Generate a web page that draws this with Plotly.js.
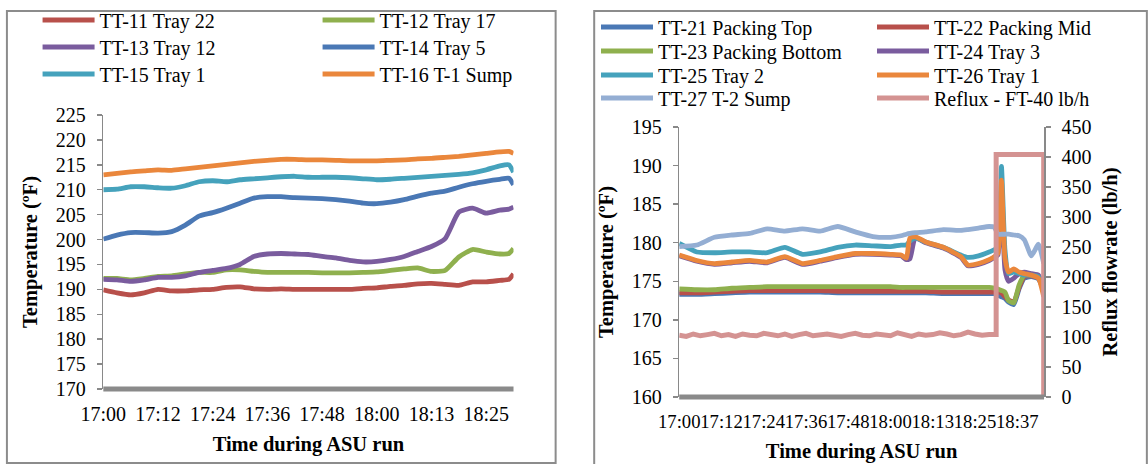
<!DOCTYPE html>
<html>
<head>
<meta charset="utf-8">
<script src="https://cdn.plot.ly/plotly-3.0.1.min.js"></script>
<style>
  html, body { margin: 0; padding: 0; background: #fff; }
  #chart { width: 1148px; height: 464px; }
</style>
</head>
<body>
<div id="chart"></div>
<script>
// ---- Column T-1 temperatures (minutes after 17:00) ----
const leftTimes = [0,3,6,9,12,15,18,21,24,27,30,33,36,39,42,45,48,51,54,57,60,63,66,69,72,75,78,81,84,87,89,90];
const tt11 = [189.9,189.3,188.9,189.3,190.0,189.7,189.7,189.9,190.0,190.4,190.5,190.1,190.0,190.1,190.0,190.0,190.0,190.0,190.0,190.2,190.3,190.6,190.8,191.1,191.2,191.0,190.8,191.5,191.5,191.8,192.0,193.1];
const tt12 = [192.2,192.2,191.9,192.2,192.6,192.7,193.1,193.4,193.4,193.9,193.9,193.6,193.4,193.4,193.4,193.4,193.3,193.3,193.3,193.4,193.5,193.8,194.1,194.3,193.6,193.8,196.5,198.0,197.5,197.1,197.2,198.2];
const tt13 = [192.0,191.9,191.6,191.9,192.4,192.4,192.7,193.4,193.8,194.2,195.0,196.6,197.1,197.2,197.1,197.0,196.6,196.3,195.8,195.5,195.6,196.0,196.6,197.6,198.6,200.2,205.5,206.3,205.3,205.9,206.1,206.5];
const tt14 = [200.1,200.9,201.4,201.4,201.3,201.6,202.9,204.7,205.4,206.3,207.3,208.3,208.6,208.6,208.4,208.3,208.2,208.0,207.7,207.3,207.2,207.5,208.0,208.7,209.3,209.7,210.5,211.2,211.7,212.1,212.3,211.0];
const tt15 = [210.0,210.1,210.6,210.6,210.4,210.3,210.8,211.6,211.8,211.6,212.0,212.2,212.4,212.6,212.7,212.5,212.5,212.5,212.4,212.2,212.0,212.1,212.3,212.5,212.7,212.9,213.1,213.4,214.0,214.8,215.0,213.5];
const tt16 = [213.0,213.3,213.6,213.8,214.0,213.9,214.2,214.5,214.8,215.1,215.4,215.7,215.9,216.1,216.1,216.0,216.0,215.9,215.8,215.8,215.8,215.9,216.0,216.2,216.3,216.5,216.7,217.0,217.3,217.6,217.7,217.3];
const leftTickText = ['17:00','17:12','17:24','17:36','17:48','18:00','18:13','18:25'];

// ---- Column T-2 temperatures and reflux flow ----
const rightTimes = [0,5,10,15,20,25,30,35,40,45,50,55,60,63,64.5,65.5,67,70,75,80,82,85,88,89.5,90.5,91.5,92.5,93.5,95,96.5,98,100,102,103.5];
const tt21 = [173.3,173.3,173.4,173.5,173.6,173.6,173.6,173.6,173.6,173.5,173.5,173.5,173.5,173.5,173.5,173.5,173.5,173.5,173.4,173.4,173.4,173.4,173.4,173.4,173.2,173.0,172.8,172.3,172.0,174.0,175.4,175.6,175.3,173.8];
const tt22 = [173.5,173.5,173.6,173.7,173.8,173.8,173.8,173.8,173.8,173.7,173.7,173.7,173.7,173.7,173.7,173.7,173.7,173.7,173.6,173.6,173.6,173.6,173.6,173.6,173.6,173.5,173.0,172.6,172.3,174.2,175.6,175.7,175.4,174.0];
const tt23 = [174.0,173.9,173.9,174.1,174.2,174.3,174.3,174.3,174.3,174.3,174.3,174.3,174.3,174.2,174.2,174.2,174.2,174.2,174.2,174.2,174.2,174.2,174.2,174.1,174.0,173.8,173.6,172.5,172.2,174.5,175.8,175.8,175.6,174.2];
const tt24 = [178.3,177.6,177.2,177.4,177.6,177.4,178.1,177.2,177.6,178.1,178.5,178.5,178.4,178.3,177.8,177.9,180.6,180.0,179.3,178.1,177.0,177.2,177.7,178.1,178.4,186.8,176.5,175.0,175.4,176.0,176.2,176.0,175.8,173.9];
const tt25 = [179.9,178.8,178.7,178.8,178.8,178.7,179.4,178.5,178.8,179.4,179.7,179.6,179.5,179.7,179.7,180.2,180.6,180.1,179.4,178.4,178.1,178.3,178.8,179.1,179.3,189.9,179.1,176.0,176.2,176.0,175.8,175.8,175.6,174.3];
const tt26 = [178.4,177.7,177.3,177.5,177.7,177.5,178.2,177.3,177.7,178.2,178.6,178.6,178.5,178.4,178.0,180.6,180.8,180.1,179.4,178.2,177.1,177.3,177.8,178.2,178.6,188.1,178.0,176.2,176.6,176.2,176.0,175.8,175.4,173.0];
const tt27 = [179.5,179.7,180.7,181.0,181.2,181.8,181.5,181.8,181.5,182.1,181.4,180.8,180.7,180.9,181.1,181.2,181.3,181.4,181.7,181.6,181.7,181.9,182.1,182.0,181.1,181.1,181.1,181.1,181.0,180.9,180.4,178.3,179.8,177.3];
const refluxTimes = [0,2,4,6,8,10,12,14,16,18,20,22,24,26,28,30,32,34,36,38,40,42,44,46,48,50,52,54,56,58,60,62,64,66,68,70,72,74,76,78,80,82,84,86,88,90,90,103.5,103.5];
const refluxFlow = [103,101,105,102,104,106,102,104,101,105,103,102,106,104,102,105,101,104,106,102,104,105,103,101,104,106,103,102,105,104,102,107,104,101,105,103,104,107,105,102,104,108,105,103,104,104,404,404,0];
const rightTickText = ['17:00','17:12','17:24','17:36','17:48','18:00','18:13','18:25','18:37'];

const C = {
  red: '#B8504B', green: '#8FB04E', purple: '#7A5C9E', blue: '#4A78B5',
  teal: '#45A2BC', orange: '#EA873C', lightblue: '#94AED3', pink: '#D49392'
};

const W = 1148, H = 464;
const px = v => v / W;           // page x pixel -> paper
const py = v => (H - v) / H;     // page y pixel -> paper

const FONT = 'Liberation Serif, Times New Roman, serif';
const LW = 4.8;

function line(name, x, y, color, xa, ya, legend) {
  return { type: 'scatter', mode: 'lines', name, x, y, xaxis: xa, yaxis: ya, legend,
           line: { color, width: LW, shape: 'spline', smoothing: 0.5 }, hoverinfo: 'skip' };
}

const traces = [
  line('TT-11 Tray 22', leftTimes, tt11, C.red,    'x', 'y', 'legend'),
  line('TT-12 Tray 17', leftTimes, tt12, C.green,  'x', 'y', 'legend'),
  line('TT-13 Tray 12', leftTimes, tt13, C.purple, 'x', 'y', 'legend2'),
  line('TT-14 Tray 5',  leftTimes, tt14, C.blue,   'x', 'y', 'legend2'),
  line('TT-15 Tray 1',  leftTimes, tt15, C.teal,   'x', 'y', 'legend3'),
  line('TT-16 T-1 Sump',leftTimes, tt16, C.orange, 'x', 'y', 'legend3'),

  line('TT-21 Packing Top',    rightTimes, tt21, C.blue,      'x2', 'y2', 'legend4'),
  line('TT-22 Packing Mid',    rightTimes, tt22, C.red,       'x2', 'y2', 'legend4'),
  line('TT-23 Packing Bottom', rightTimes, tt23, C.green,     'x2', 'y2', 'legend5'),
  line('TT-24 Tray 3',         rightTimes, tt24, C.purple,    'x2', 'y2', 'legend5'),
  line('TT-25 Tray 2',         rightTimes, tt25, C.teal,      'x2', 'y2', 'legend6'),
  line('TT-26 Tray 1',         rightTimes, tt26, C.orange,    'x2', 'y2', 'legend6'),
  line('TT-27 T-2 Sump',       rightTimes, tt27, C.lightblue, 'x2', 'y2', 'legend7'),
  { type: 'scatter', mode: 'lines', name: 'Reflux - FT-40 lb/h', x: refluxTimes, y: refluxFlow,
    xaxis: 'x2', yaxis: 'y3', legend: 'legend7', line: { color: C.pink, width: 5 }, hoverinfo: 'skip' }
];

const tickFont = { family: FONT, size: 20, color: '#000' };
const titleFont = { family: FONT, size: 20.5, color: '#000', weight: 'bold' };

const yBase = {
  showgrid: false, zeroline: false, showline: true, linecolor: '#898989', linewidth: 1.5,
  ticks: 'outside', ticklen: 5, tickwidth: 1.5, tickcolor: '#898989',
  tickfont: tickFont, ticklabelstandoff: 7, fixedrange: true
};
const xBase = {
  showgrid: false, zeroline: false, showline: false, ticks: '',
  tickfont: tickFont, tickangle: 0, fixedrange: true
};

function legendRow(xPix, yPix, entry) {
  return {
    x: px(xPix), y: py(yPix), xanchor: 'left', yanchor: 'middle',
    orientation: 'h', entrywidth: entry, entrywidthmode: 'pixels',
    itemwidth: 52, font: { family: FONT, size: 20, color: '#000' },
    bgcolor: 'rgba(0,0,0,0)', borderwidth: 0, traceorder: 'normal',
    itemclick: false, itemdoubleclick: false
  };
}

const axisGrey = '#8A8A8A';

const layout = {
  width: W, height: H,
  margin: { l: 0, r: 0, t: 0, b: 0 },
  paper_bgcolor: '#fff', plot_bgcolor: 'rgba(0,0,0,0)',
  font: { family: FONT, size: 20, color: '#000' },
  showlegend: true,

  xaxis: Object.assign({}, xBase, {
    domain: [px(104.5), px(519.4)], range: [0, 90], anchor: 'y',
    tickvals: [0,12,24,36,48,60,72,84], ticktext: leftTickText, ticklabelstandoff: 11,
    title: { text: 'Time during ASU run', font: titleFont, standoff: 12 }
  }),
  yaxis: Object.assign({}, yBase, {
    domain: [py(389), py(115)], range: [170, 225], dtick: 5, anchor: 'x',
    title: { text: 'Temperature (ºF)', font: titleFont, standoff: 12 }
  }),

  xaxis2: Object.assign({}, xBase, {
    domain: [px(687), px(1056)], range: [0, 103.6], anchor: 'y2',
    tickvals: [0,12,24,36,48,60,72,84,96], ticktext: rightTickText, ticklabelstandoff: 11,
    tickfont: { family: FONT, size: 18.7, color: '#000' },
    title: { text: 'Time during ASU run', font: titleFont, standoff: 12 }
  }),
  yaxis2: Object.assign({}, yBase, {
    domain: [py(397), py(127)], range: [160, 195], dtick: 5, anchor: 'x2',
    title: { text: 'Temperature (ºF)', font: titleFont, standoff: 12 }
  }),
  yaxis3: Object.assign({}, yBase, {
    domain: [py(397), py(127)], range: [0, 450], dtick: 50, anchor: 'x2',
    overlaying: 'y2', side: 'right',
    title: { text: 'Reflux flowrate (lb/h)', font: titleFont, standoff: 12 }
  }),

  legend:  legendRow(38, 20, 213),
  legend2: legendRow(38, 47, 213),
  legend3: legendRow(38, 74, 213),
  legend4: legendRow(603, 27, 209),
  legend5: legendRow(603, 51, 209),
  legend6: legendRow(603, 75, 209),
  legend7: legendRow(603, 98, 209),

  shapes: [
    // panel frames
    { type: 'rect', xref: 'paper', yref: 'paper', x0: px(7), x1: px(562), y0: py(463), y1: py(11),
      line: { color: '#8C8C8C', width: 2 }, fillcolor: 'rgba(0,0,0,0)', layer: 'below' },
    { type: 'rect', xref: 'paper', yref: 'paper', x0: px(601), x1: px(1160), y0: py(470), y1: py(11),
      line: { color: '#8C8C8C', width: 2 }, fillcolor: 'rgba(0,0,0,0)', layer: 'below' },
    // heavy category-axis bars
    { type: 'line', xref: 'x domain', yref: 'y domain', x0: 0, x1: 1, y0: 0, y1: 0,
      line: { color: axisGrey, width: 5 }, layer: 'above' },
    { type: 'line', xref: 'x2 domain', yref: 'y2 domain', x0: 0, x1: 1, y0: 0, y1: 0,
      line: { color: axisGrey, width: 5 }, layer: 'above' }
  ]
};

Plotly.newPlot('chart', traces, layout, { staticPlot: true, displayModeBar: false });
</script>
</body>
</html>
